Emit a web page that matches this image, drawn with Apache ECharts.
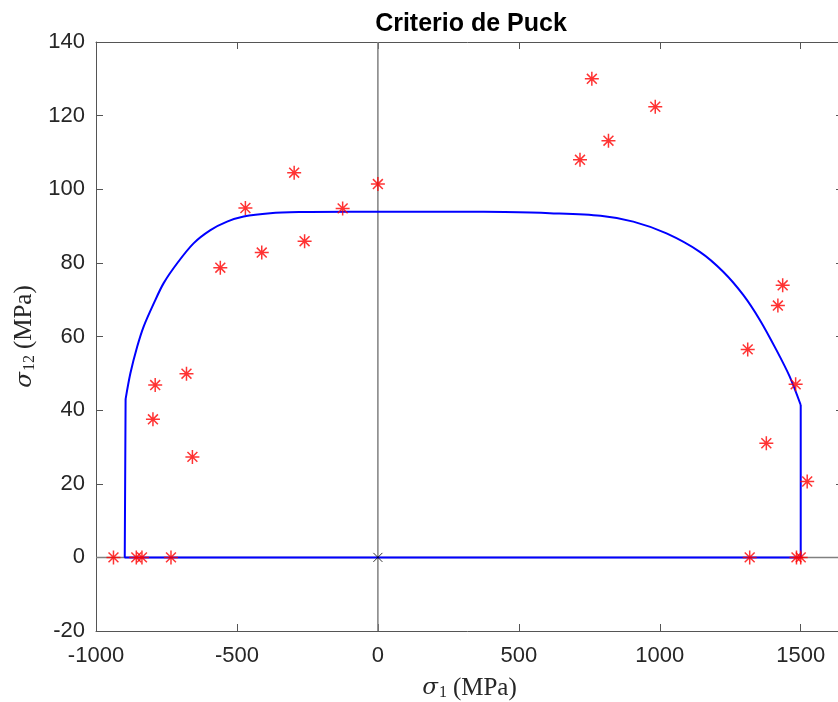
<!DOCTYPE html>
<html>
<head>
<meta charset="utf-8">
<title>Criterio de Puck</title>
<script src="https://cdn.jsdelivr.net/npm/echarts@6/dist/echarts.min.js"></script>
<style>
  html, body { margin: 0; padding: 0; background: #ffffff; overflow: hidden; }
  #chart { width: 838px; height: 702px; }
</style>
</head>
<body>
<div id="chart"></div>
<script>
// Axis limits and ticks
const xLimits = [-1000, 1650];
const yLimits = [-20, 140];
const xTickStep = 500;
const yTickStep = 20;

// Puck failure envelope: curved upper branch (sigma1, sigma12)
const envCurveX = [-895, -878, -854, -831, -795, -760, -712, -654, -594, -535, -476, -382, -280, -100, 100, 300, 450, 610, 790, 906, 1024, 1142, 1225, 1296, 1355, 1414, 1461, 1500];
const envCurveY = [43.0, 50.0, 57.2, 62.7, 69.0, 74.5, 79.9, 85.3, 88.9, 91.2, 92.6, 93.5, 93.8, 93.9, 93.9, 93.9, 93.8, 93.5, 92.8, 91.2, 88.0, 83.0, 77.6, 71.3, 64.5, 56.3, 49.1, 41.4];

// Envelope straight sides: left vertical, bottom edge, right vertical
const envSideX = [-895, -898, 1500, 1500];
const envSideY = [43.0, 0, 0, 41.4];

// Experimental failure points
const testX = [-938, -857, -837, -734, -790, -798, -679, -658, -559, -470, -412, -297, -260, -125, 0, 717, 759, 818, 984, 1312, 1378, 1419, 1436, 1482, 1523, 1319, 1485, 1500];
const testY = [0, 0, 0, 0, 46.8, 37.5, 49.9, 27.3, 78.7, 94.9, 82.8, 104.5, 85.9, 94.8, 101.4, 108.0, 130.0, 113.2, 122.4, 56.5, 31.0, 68.4, 73.9, 47.0, 20.6, 0, 0, 0];

// Origin marker
const originX = [0];
const originY = [0];

const pairs = (xs, ys) => xs.map((x, i) => [x, ys[i]]);

const starPath = 'path://M10,0L10,20M0,10L20,10M2.93,2.93L17.07,17.07M2.93,17.07L17.07,2.93';
const crossPath = 'path://M0,0L20,20M0,20L20,0';

const tickFont = { fontFamily: 'Liberation Sans, Arial, Helvetica, sans-serif', fontSize: 22, color: '#262626' };
const axisLineColor = '#555555';

const nameRich = {
  s: { fontFamily: 'DejaVu Serif, Liberation Serif, serif', fontStyle: 'italic', fontSize: 23, color: '#262626' },
  sub: { fontFamily: 'Liberation Serif, serif', fontSize: 16, color: '#262626', verticalAlign: 'bottom', padding: [9, 6, 0, 1] },
  n: { fontFamily: 'Liberation Serif, serif', fontSize: 25, color: '#262626' }
};

const chart = echarts.init(document.getElementById('chart'), null, { renderer: 'canvas' });

chart.setOption({
  animation: false,
  backgroundColor: '#ffffff',
  title: {
    text: 'Criterio de Puck',
    left: 466,
    top: 7,
    textAlign: 'center',
    textStyle: { fontFamily: 'Liberation Sans, Arial, Helvetica, sans-serif', fontWeight: 'bold', fontSize: 25, color: '#000000' }
  },
  // the plot box runs a few pixels past the right edge of the canvas
  grid: { left: 96, top: 42, width: 747, height: 589, containLabel: false, outerBoundsMode: 'none' },
  xAxis: [
    {
      type: 'value', min: xLimits[0], max: xLimits[1], interval: xTickStep,
      position: 'bottom',
      name: '{s|σ}{sub|1}{n|(MPa)}',
      nameLocation: 'middle', nameGap: 45,
      nameTextStyle: { rich: nameRich },
      axisLine: { show: true, onZero: false, lineStyle: { color: axisLineColor, width: 1 } },
      axisTick: { show: true, inside: true, length: 7, lineStyle: { color: axisLineColor } },
      axisLabel: { ...tickFont, margin: 14, showMaxLabel: false,
        formatter: v => (v % xTickStep === 0 ? String(v) : '') },
      splitLine: { show: false }
    },
    {
      type: 'value', min: xLimits[0], max: xLimits[1], interval: xTickStep,
      position: 'top',
      axisLine: { show: true, onZero: false, lineStyle: { color: axisLineColor, width: 1 } },
      axisTick: { show: true, inside: true, length: 7, lineStyle: { color: axisLineColor } },
      axisLabel: { show: false },
      splitLine: { show: false }
    }
  ],
  yAxis: [
    {
      type: 'value', min: yLimits[0], max: yLimits[1], interval: yTickStep,
      position: 'left',
      name: '{s|σ}{sub|12}{n|(MPa)}',
      nameLocation: 'middle', nameGap: 46, nameRotate: 90,
      nameTextStyle: { rich: nameRich },
      axisLine: { show: true, onZero: false, lineStyle: { color: axisLineColor, width: 1 } },
      axisTick: { show: true, inside: true, length: 7, lineStyle: { color: axisLineColor } },
      axisLabel: { ...tickFont, margin: 11 },
      splitLine: { show: false }
    },
    {
      type: 'value', min: yLimits[0], max: yLimits[1], interval: yTickStep,
      position: 'right',
      axisLine: { show: true, onZero: false, lineStyle: { color: axisLineColor, width: 1 } },
      axisTick: { show: true, inside: true, length: 7, lineStyle: { color: axisLineColor } },
      axisLabel: { show: false },
      splitLine: { show: false }
    }
  ],
  series: [
    {
      name: 'eje sigma1', type: 'line', xAxisIndex: 0, yAxisIndex: 0,
      data: [[xLimits[0], 0], [xLimits[1], 0]],
      symbol: 'none', lineStyle: { color: '#808080', width: 1.5 }, silent: true, z: 1
    },
    {
      name: 'eje sigma12', type: 'line', xAxisIndex: 0, yAxisIndex: 0,
      data: [[0, yLimits[0]], [0, yLimits[1]]],
      symbol: 'none', lineStyle: { color: '#808080', width: 1.5 }, silent: true, z: 1
    },
    {
      name: 'Puck curva', type: 'line', xAxisIndex: 0, yAxisIndex: 0,
      data: pairs(envCurveX, envCurveY),
      smooth: 0.3, symbol: 'none',
      lineStyle: { color: '#0000ff', width: 2 }, z: 2
    },
    {
      name: 'Puck lados', type: 'line', xAxisIndex: 0, yAxisIndex: 0,
      data: pairs(envSideX, envSideY),
      smooth: false, symbol: 'none',
      lineStyle: { color: '#0000ff', width: 2 }, z: 2
    },
    {
      name: 'Ensayos', type: 'scatter', xAxisIndex: 0, yAxisIndex: 0,
      data: pairs(testX, testY),
      symbol: starPath, symbolSize: 14,
      itemStyle: { color: '#ff0000', borderColor: '#ff0000', borderWidth: 1.5 },
      z: 3
    },
    {
      name: 'Origen', type: 'scatter', xAxisIndex: 0, yAxisIndex: 0,
      data: pairs(originX, originY),
      symbol: crossPath, symbolSize: 9,
      itemStyle: { color: '#000000', borderColor: '#000000', borderWidth: 1 },
      z: 4
    }
  ]
});
</script>
</body>
</html>
